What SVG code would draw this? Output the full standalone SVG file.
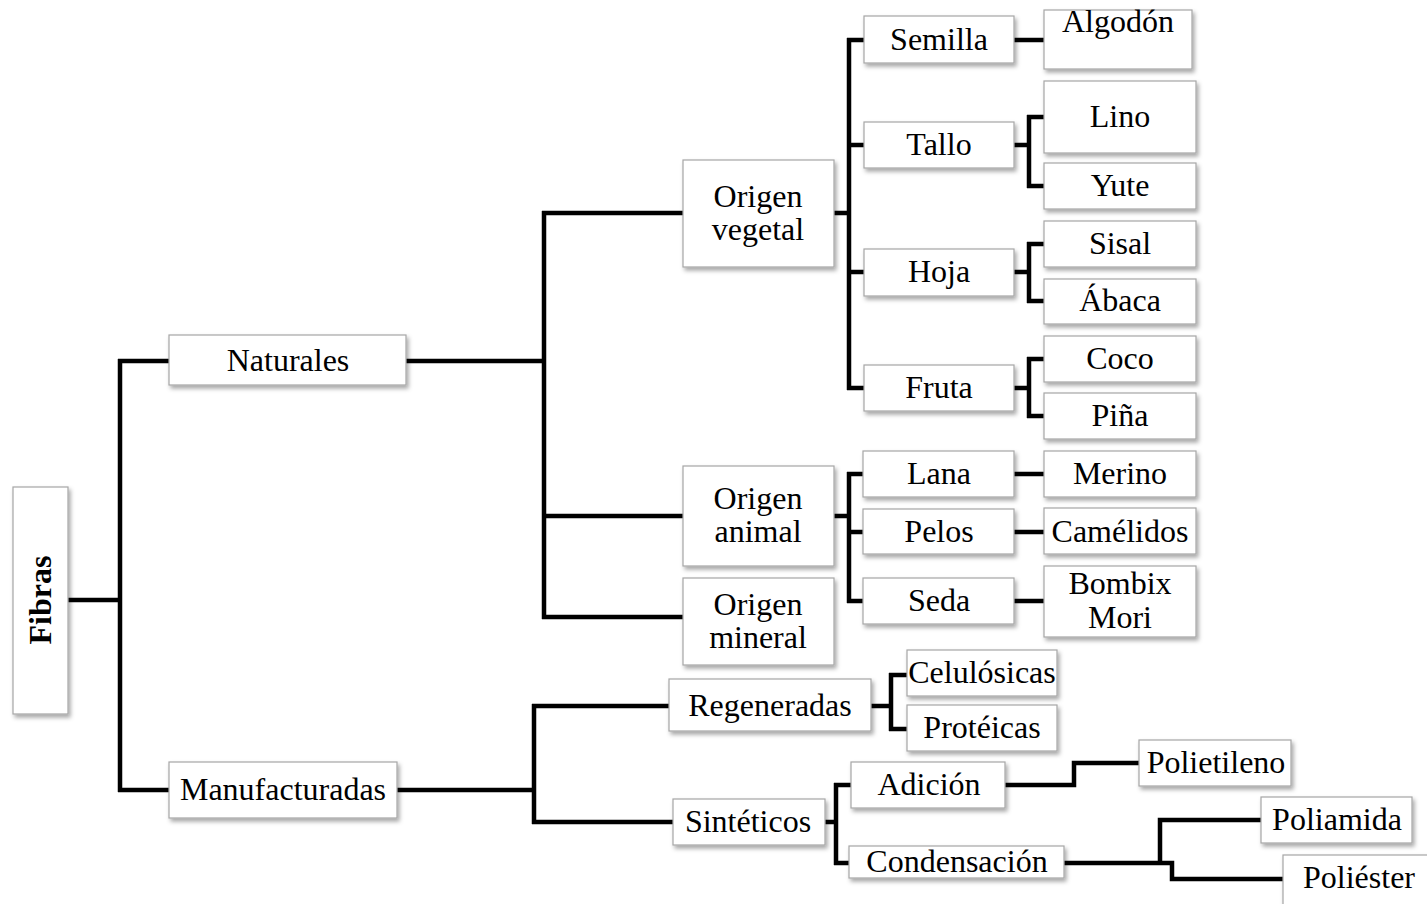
<svg xmlns="http://www.w3.org/2000/svg" width="1427" height="904" viewBox="0 0 1427 904">
  <defs>
    <filter id="shadow" x="-10%" y="-10%" width="130%" height="140%">
      <feDropShadow dx="2" dy="3" stdDeviation="2" flood-color="#000" flood-opacity="0.35"/>
    </filter>
  </defs>
  <style>
    .box { fill: #fff; stroke: #a6a6a6; stroke-width: 1.2; filter: url(#shadow); }
    .lbl { font-family: "Liberation Serif", "Times New Roman", serif; font-size: 32px; fill: #000; text-anchor: middle; }
    .root { font-weight: bold; }
    .wire { fill: none; stroke: #000; stroke-width: 4.5; stroke-linejoin: miter; stroke-linecap: butt; }
  </style>
  <rect width="1427" height="904" fill="#fff"/>

  <!-- connectors -->
  <g id="connectors" class="wire">
    <path d="M68 600 H120 M120 359 V792 M118 361 H169 M118 790 H169"/>
    <path d="M406 361 H544 M544 211 V619 M542 213 H683 M542 516 H683 M542 617 H683"/>
    <path d="M834 213 H849 M849 38 V390 M847 40 H864 M847 145 H864 M847 272 H864 M847 388 H864"/>
    <path d="M1014 40 H1044"/>
    <path d="M1014 145 H1029 M1029 115 V188 M1027 117 H1044 M1027 186 H1044"/>
    <path d="M1014 272 H1029 M1029 242 V303 M1027 244 H1044 M1027 301 H1044"/>
    <path d="M1014 388 H1029 M1029 357 V418 M1027 359 H1044 M1027 416 H1044"/>
    <path d="M834 516 H849 M849 472 V603 M847 474 H863 M847 532 H863 M847 601 H863"/>
    <path d="M1014 474 H1044 M1014 532 H1044 M1014 601 H1044"/>
    <path d="M397 790 H534 M534 704 V824 M532 706 H669 M532 822 H673"/>
    <path d="M871 706 H891 M891 673 V731 M889 675 H907 M889 729 H907"/>
    <path d="M825 822 H836 M836 783 V865 M834 785 H851 M834 863 H849"/>
    <path d="M1005 785 H1074 V763 H1139"/>
    <path d="M1064 863 H1172 V879 H1283 M1160 863 V820 H1261"/>
  </g>

  <!-- nodes -->
  <g id="n-fibras"><rect class="box" x="13" y="487" width="55" height="227"/>
    <text class="lbl root" transform="translate(51 600) rotate(-90)">Fibras</text></g>

  <g id="n-naturales"><rect class="box" x="169" y="335" width="237" height="50"/>
    <text class="lbl" x="288" y="371">Naturales</text></g>
  <g id="n-manufacturadas"><rect class="box" x="169" y="762" width="228" height="56"/>
    <text class="lbl" x="283" y="800">Manufacturadas</text></g>

  <g id="n-origen-vegetal"><rect class="box" x="683" y="160" width="151" height="107"/>
    <text class="lbl" x="758" y="207">Origen</text><text class="lbl" x="758" y="240">vegetal</text></g>
  <g id="n-origen-animal"><rect class="box" x="683" y="466" width="151" height="100"/>
    <text class="lbl" x="758" y="509">Origen</text><text class="lbl" x="758" y="542">animal</text></g>
  <g id="n-origen-mineral"><rect class="box" x="683" y="578" width="151" height="87"/>
    <text class="lbl" x="758" y="615">Origen</text><text class="lbl" x="758" y="648">mineral</text></g>

  <g id="n-semilla"><rect class="box" x="864" y="16" width="150" height="47"/>
    <text class="lbl" x="939" y="50">Semilla</text></g>
  <g id="n-algodon"><rect class="box" x="1044" y="10" width="148" height="59"/>
    <text class="lbl" x="1118" y="32">Algodón</text></g>
  <g id="n-tallo"><rect class="box" x="864" y="122" width="150" height="46"/>
    <text class="lbl" x="939" y="155">Tallo</text></g>
  <g id="n-lino"><rect class="box" x="1044" y="81" width="152" height="72"/>
    <text class="lbl" x="1120" y="127">Lino</text></g>
  <g id="n-yute"><rect class="box" x="1044" y="163" width="152" height="46"/>
    <text class="lbl" x="1120" y="196">Yute</text></g>
  <g id="n-hoja"><rect class="box" x="864" y="249" width="150" height="47"/>
    <text class="lbl" x="939" y="282">Hoja</text></g>
  <g id="n-sisal"><rect class="box" x="1044" y="221" width="152" height="46"/>
    <text class="lbl" x="1120" y="254">Sisal</text></g>
  <g id="n-abaca"><rect class="box" x="1044" y="279" width="152" height="45"/>
    <text class="lbl" x="1120" y="311">Ábaca</text></g>
  <g id="n-fruta"><rect class="box" x="864" y="365" width="150" height="46"/>
    <text class="lbl" x="939" y="398">Fruta</text></g>
  <g id="n-coco"><rect class="box" x="1044" y="336" width="152" height="46"/>
    <text class="lbl" x="1120" y="369">Coco</text></g>
  <g id="n-pina"><rect class="box" x="1044" y="393" width="152" height="46"/>
    <text class="lbl" x="1120" y="426">Piña</text></g>

  <g id="n-lana"><rect class="box" x="863" y="451" width="151" height="46"/>
    <text class="lbl" x="939" y="484">Lana</text></g>
  <g id="n-merino"><rect class="box" x="1044" y="451" width="152" height="46"/>
    <text class="lbl" x="1120" y="484">Merino</text></g>
  <g id="n-pelos"><rect class="box" x="863" y="509" width="151" height="45"/>
    <text class="lbl" x="939" y="542">Pelos</text></g>
  <g id="n-camelidos"><rect class="box" x="1044" y="508" width="152" height="46"/>
    <text class="lbl" x="1120" y="542">Camélidos</text></g>
  <g id="n-seda"><rect class="box" x="863" y="578" width="151" height="46"/>
    <text class="lbl" x="939" y="611">Seda</text></g>
  <g id="n-bombix"><rect class="box" x="1044" y="566" width="152" height="71"/>
    <text class="lbl" x="1120" y="594">Bombix</text><text class="lbl" x="1120" y="628">Mori</text></g>

  <g id="n-regeneradas"><rect class="box" x="669" y="679" width="202" height="52"/>
    <text class="lbl" x="770" y="716">Regeneradas</text></g>
  <g id="n-celulosicas"><rect class="box" x="907" y="650" width="150" height="46"/>
    <text class="lbl" x="982" y="683">Celulósicas</text></g>
  <g id="n-proteicas"><rect class="box" x="907" y="705" width="150" height="46"/>
    <text class="lbl" x="982" y="738">Protéicas</text></g>

  <g id="n-sinteticos"><rect class="box" x="673" y="799" width="152" height="46"/>
    <text class="lbl" x="748" y="832">Sintéticos</text></g>
  <g id="n-adicion"><rect class="box" x="851" y="762" width="154" height="46"/>
    <text class="lbl" x="929" y="795">Adición</text></g>
  <g id="n-condensacion"><rect class="box" x="849" y="846" width="215" height="32"/>
    <text class="lbl" x="957" y="872">Condensación</text></g>
  <g id="n-polietileno"><rect class="box" x="1139" y="740" width="152" height="46"/>
    <text class="lbl" x="1216" y="773">Polietileno</text></g>
  <g id="n-poliamida"><rect class="box" x="1261" y="797" width="151" height="46"/>
    <text class="lbl" x="1337" y="830">Poliamida</text></g>
  <g id="n-poliester"><rect class="box" x="1283" y="855" width="150" height="52"/>
    <text class="lbl" x="1359" y="888">Poliéster</text></g>
</svg>
